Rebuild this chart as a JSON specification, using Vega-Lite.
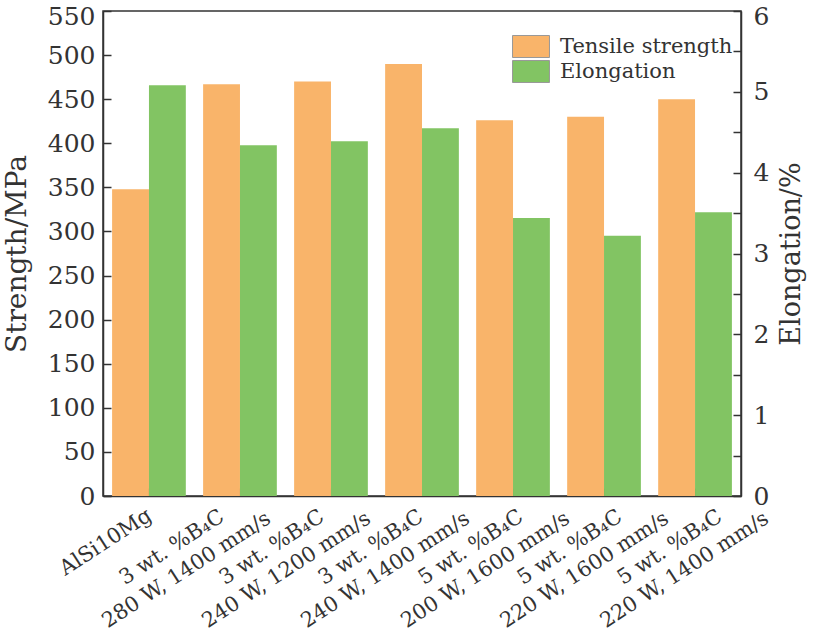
{
  "$schema": "https://vega.github.io/schema/vega-lite/v6.json",
  "width": 638,
  "height": 485,
  "autosize": {"type": "none"},
  "padding": {"left": 103, "top": 11, "right": 72, "bottom": 137},
  "background": "white",
  "config": {
    "font": "DejaVu Serif",
    "view": {"stroke": "#333333", "strokeWidth": 1.5},
    "axis": {
      "grid": false,
      "domainColor": "#333333",
      "domainWidth": 1.5,
      "tickColor": "#333333",
      "tickWidth": 1.5,
      "labelColor": "#333333",
      "titleColor": "#333333",
      "labelFont": "DejaVu Serif",
      "titleFont": "DejaVu Serif",
      "titleFontWeight": "normal"
    }
  },
  "data": {
    "values": [
      {"sample": "AlSi10Mg", "Tensile strength": 348, "Elongation": 5.08},
      {"sample": "3 wt. %B₄C; 280 W, 1400 mm/s", "Tensile strength": 467, "Elongation": 4.34},
      {"sample": "3 wt. %B₄C; 240 W, 1200 mm/s", "Tensile strength": 470, "Elongation": 4.39},
      {"sample": "3 wt. %B₄C; 240 W, 1400 mm/s", "Tensile strength": 490, "Elongation": 4.55},
      {"sample": "5 wt. %B₄C; 200 W, 1600 mm/s", "Tensile strength": 426, "Elongation": 3.44},
      {"sample": "5 wt. %B₄C; 220 W, 1600 mm/s", "Tensile strength": 430, "Elongation": 3.22},
      {"sample": "5 wt. %B₄C; 220 W, 1400 mm/s", "Tensile strength": 450, "Elongation": 3.51}
    ]
  },
  "transform": [
    {"fold": ["Tensile strength", "Elongation"], "as": ["property", "value"]}
  ],
  "encoding": {
    "x": {
      "field": "sample",
      "type": "nominal",
      "sort": null,
      "scale": {"paddingInner": 0.19, "paddingOuter": 0.1},
      "axis": {
        "title": null,
        "labelExpr": "split(datum.label, '; ')",
        "labelAngle": -33,
        "labelAlign": "center",
        "labelBaseline": "middle",
        "labelFontSize": 21,
        "labelLineHeight": 27,
        "labelOverlap": false,
        "labelBound": false,
        "labelFlush": false,
        "labelLimit": 0,
        "labelOffset": {
          "condition": [
            {"test": "datum.value == 'AlSi10Mg'", "value": -43},
            {"test": "datum.value == '3 wt. %B₄C; 280 W, 1400 mm/s'", "value": -68},
            {"test": "datum.value == '3 wt. %B₄C; 240 W, 1200 mm/s'", "value": -59},
            {"test": "datum.value == '3 wt. %B₄C; 240 W, 1400 mm/s'", "value": -51},
            {"test": "datum.value == '5 wt. %B₄C; 200 W, 1600 mm/s'", "value": -42},
            {"test": "datum.value == '5 wt. %B₄C; 220 W, 1600 mm/s'", "value": -34}
          ],
          "value": -25
        },
        "labelPadding": {"condition": {"test": "datum.value == 'AlSi10Mg'", "value": 54}, "value": 59},
        "tickSize": -8
      }
    },
    "xOffset": {
      "field": "property",
      "type": "nominal",
      "scale": {"domain": ["Tensile strength", "Elongation"], "paddingInner": 0}
    },
    "color": {
      "field": "property",
      "type": "nominal",
      "scale": {"domain": ["Tensile strength", "Elongation"], "range": ["#F9B46A", "#82C463"]},
      "legend": {
        "title": null,
        "orient": "none",
        "legendX": 416.5,
        "legendY": 24,
        "padding": 0,
        "symbolType": "M-1.68,-1L1.68,-1L1.68,1L-1.68,1Z",
        "symbolSize": 484,
        "symbolStrokeColor": "#999999",
        "symbolStrokeWidth": 1,
        "symbolOpacity": 1,
        "labelFont": "DejaVu Serif",
        "labelFontSize": 21,
        "labelColor": "#333333",
        "labelOffset": 17.5,
        "labelLimit": 0,
        "rowPadding": -3
      }
    }
  },
  "layer": [
    {
      "transform": [{"filter": "datum.property == 'Tensile strength'"}],
      "mark": {"type": "bar"},
      "encoding": {
        "y": {
          "field": "value",
          "type": "quantitative",
          "scale": {"domain": [0, 550], "nice": false},
          "axis": {
            "title": "Strength/MPa",
            "titleFontSize": 28,
            "titlePadding": 16,
            "values": [0, 50, 100, 150, 200, 250, 300, 350, 400, 450, 500, 550],
            "labelFontSize": 25,
            "labelPadding": 16,
            "labelBaseline": {"condition": {"test": "datum.value == 550", "value": "top"}, "value": "middle"},
            "labelOffset": {"condition": {"test": "datum.value == 550", "value": -7}, "value": 0},
            "tickSize": -8
          }
        }
      }
    },
    {
      "transform": [{"filter": "datum.property == 'Elongation'"}],
      "mark": {"type": "bar"},
      "encoding": {
        "y": {
          "field": "value",
          "type": "quantitative",
          "scale": {"domain": [0, 6], "nice": false},
          "axis": {
            "orient": "right",
            "title": "Elongation/%",
            "titleFontSize": 27,
            "titleAngle": 270,
            "titleBaseline": "top",
            "titlePadding": 10,
            "values": [0, 0.5, 1, 1.5, 2, 2.5, 3, 3.5, 4, 4.5, 5, 5.5, 6],
            "labelExpr": "datum.value % 1 == 0 ? format(datum.value, 'd') : ''",
            "labelFontSize": 25,
            "labelPadding": 20,
            "labelBaseline": {"condition": {"test": "datum.value == 6", "value": "top"}, "value": "middle"},
            "labelOffset": {"condition": {"test": "datum.value == 6", "value": -7}, "value": 0},
            "tickSize": -8
          }
        }
      }
    }
  ],
  "resolve": {"scale": {"y": "independent"}}
}
